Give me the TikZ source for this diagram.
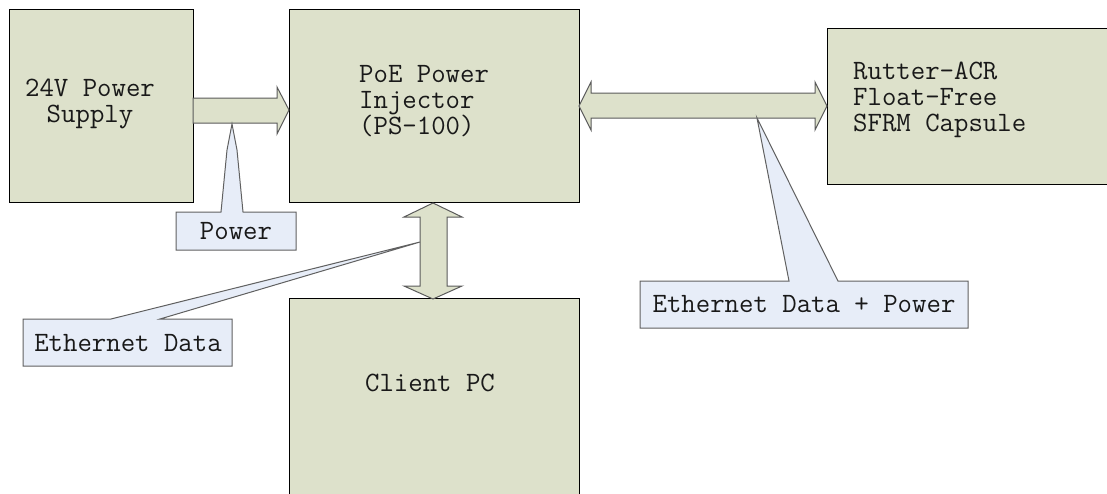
\documentclass[tikz,border=0pt]{standalone}
\usepackage{fontspec}
\usetikzlibrary{calc}
\definecolor{boxfill}{HTML}{DDE1CB}
\definecolor{callfill}{HTML}{E7EDF8}
\definecolor{arrowline}{HTML}{5A5A5A}
\definecolor{callline}{HTML}{606060}
\tikzset{
  blockbox/.style={draw=black, line width=1pt, fill=boxfill},
  fatarrow/.style={draw=arrowline, line width=1pt, fill=boxfill, line join=miter},
  callout/.style={draw=callline, line width=1pt, fill=callfill, line join=miter},
  txt/.style={font=\ttfamily\fontsize{28}{26.3}\selectfont, inner sep=0pt, text=black!90},
}
\begin{document}
\begin{tikzpicture}[x=1pt, y=-1pt]
\useasboundingbox (0,0) rectangle (1107,493);
% blocks
\draw[blockbox] (9,9) rectangle (193,202);
\draw[blockbox] (289,9) rectangle (579,202);
\draw[blockbox] (827,28) rectangle (1115,184);
\draw[blockbox] (289,298) rectangle (579,500);
% texts
\node[txt, align=center] (pstext) at (90,104) {24V Power\\Supply};
\node[txt, align=left, anchor=west] (poetext) at (359,101) {PoE Power\\Injector\\(PS-100)};
\node[txt, align=left, anchor=west] (rtext) at (853,100) {Rutter-ACR\\Float-Free\\SFRM Capsule};
\node[txt] (pctext) at (430,383) {Client PC};
% arrows
\draw[fatarrow] (193,98) -- (277,98) -- (277,87) -- (289,110) -- (277,134) -- (277,123) -- (193,123) -- cycle;
\draw[fatarrow] (579,106) -- (591,82) -- (591,93) -- (815,93) -- (815,82) -- (827,106) -- (815,130) -- (815,118) -- (591,118) -- (591,130) -- cycle;
\draw[fatarrow] (433,203) -- (462,217) -- (447,217) -- (447,286) -- (462,286) -- (433,299) -- (404,286) -- (420,286) -- (420,217) -- (404,217) -- cycle;
% callouts
\draw[callout] (176,212) -- (221,212) -- (227,150) -- (232,124) -- (237,150) -- (243,212) -- (296,212) -- (296,250) -- (176,250) -- cycle;
\node[txt] (powerlbl) at (236,231) {Power};
\draw[callout] (23,319) -- (111,319) -- (420,242) -- (160,319) -- (232,319) -- (232,366) -- (23,366) -- cycle;
\node[txt] (ethlbl) at (128,343) {Ethernet Data};
\draw[callout] (640,281) -- (789,281) -- (757,118) -- (838,281) -- (968,281) -- (968,328) -- (640,328) -- cycle;
\node[txt] (ethplbl) at (804,304) {Ethernet Data + Power};
\end{tikzpicture}
\end{document}
